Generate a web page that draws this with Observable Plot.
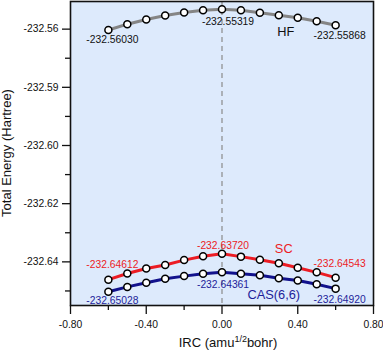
<!DOCTYPE html>
<html>
<head>
<meta charset="utf-8">
<script src="https://cdn.jsdelivr.net/npm/d3@7"></script>
<script src="https://cdn.jsdelivr.net/npm/@observablehq/plot@0.6"></script>
<style>
  html, body { margin: 0; padding: 0; background: #fff; }
  #chart svg { display: block; }
</style>
</head>
<body>
<div id="chart"></div>
<script>
// IRC coordinate (amu^1/2 bohr)
const irc = [-0.6, -0.5, -0.4, -0.3, -0.2, -0.1, 0.0, 0.1, 0.2, 0.3, 0.4, 0.5, 0.6];
// Total energies (Hartree)
const hf  = [-232.56030, -232.5583, -232.5567, -232.5553, -232.5543, -232.5535, -232.55319,
             -232.5535, -232.5544, -232.5552, -232.5561, -232.5573, -232.55868];
const sc  = [-232.64612, -232.6440, -232.6423, -232.6411, -232.6394, -232.6381, -232.63720,
             -232.6382, -232.6393, -232.6405, -232.6420, -232.6436, -232.64543];
const cas = [-232.65028, -232.6486, -232.6472, -232.6458, -232.6449, -232.6441, -232.64361,
             -232.6441, -232.6446, -232.6456, -232.6464, -232.6477, -232.64920];

const seriesNames = ["HF", "SC", "CAS(6,6)"];
const seriesColors = ["#858585", "#ec1c24", "#12128c"];
const labelColors = ["#111111", "#ec1c24", "#1e1e9a"];

const yTickValues = [-232.56, -232.58, -232.60, -232.62, -232.64];
const yTickLabels = ["-232.56", "-232.59", "-232.60", "-232.62", "-232.64"];
const yMinorTicks = [-232.57, -232.59, -232.61, -232.63, -232.65];
const xTickValues = [-0.8, -0.4, 0.0, 0.4, 0.8];
const xTickLabels = ["-0.80", "-0.40", "0.00", "0.40", "0.80"];
const xMinorTicks = [-0.6, -0.2, 0.2, 0.6];

const series = [hf, sc, cas];
const rows = [];
series.forEach((vals, s) => vals.forEach((v, i) => rows.push({x: irc[i], y: v, s: seriesNames[s]})));

const last = irc.length - 1, mid = 6;
// value annotations anchored on the data points: [series index, point index, dx, dy]
const valueLabelSpec = [
  [0, 0, 4, 10], [0, mid, 6, 12], [0, last, 4, 10],
  [1, 0, 4, -15], [1, mid, 1, -8], [1, last, 4, -14],
  [2, 0, 4, 9], [2, mid, 1, 12], [2, last, 4, 11]
];
// series name labels: [series index, point index, dx, dy]
const nameLabelSpec = [[0, 10, -12, 14], [1, 10, -14, -19], [2, 10, -24, 14]];

const font = "'Liberation Sans', Arial, Helvetica, sans-serif";

const labelMarks = [];
valueLabelSpec.forEach(([s, i, dx, dy]) => {
  labelMarks.push(Plot.text([{x: irc[i], y: series[s][i], t: series[s][i].toFixed(5)}],
    {x: "x", y: "y", text: "t", dx, dy, fill: labelColors[s], fontSize: 10.3, lineAnchor: "middle"}));
});
nameLabelSpec.forEach(([s, i, dx, dy]) => {
  labelMarks.push(Plot.text([{x: irc[i], y: series[s][i], t: seriesNames[s]}],
    {x: "x", y: "y", text: "t", dx, dy, fill: labelColors[s], fontSize: 12.8, lineAnchor: "middle"}));
});

const plot = Plot.plot({
  width: 383,
  height: 351,
  marginLeft: 70,
  marginRight: 10,
  marginTop: 1,
  marginBottom: 46,
  style: {fontFamily: font, fontSize: "10.3px", color: "#111", background: "#fff"},
  x: {domain: [-0.8, 0.8]},
  y: {domain: [-232.655, -232.5505]},
  color: {domain: seriesNames, range: seriesColors},
  marks: [
    Plot.frame({fill: "#ddeafc", stroke: "none"}),
    Plot.ruleX([0], {stroke: "#8a8a8a", strokeWidth: 1.2, strokeDasharray: "5,4"}),
    Plot.line(rows, {x: "x", y: "y", z: "s", stroke: "s", strokeWidth: 3}),
    Plot.dot(rows, {x: "x", y: "y", r: 3.5, fill: "white", stroke: "black", strokeWidth: 1.5}),
    ...labelMarks,
    Plot.axisY({ticks: yTickValues, tickSize: 8, tickPadding: 4, strokeWidth: 1.3,
      tickFormat: d => yTickLabels[yTickValues.indexOf(d)], label: null}),
    Plot.axisY({ticks: yMinorTicks, tickSize: 5, strokeWidth: 1.3, tickFormat: () => "", label: null}),
    Plot.axisX({ticks: xTickValues, tickSize: 9, tickPadding: 6, strokeWidth: 1.3,
      tickFormat: d => xTickLabels[xTickValues.indexOf(d)], label: null}),
    Plot.axisX({ticks: xMinorTicks, tickSize: 5, strokeWidth: 1.3, tickFormat: () => "", label: null}),
    Plot.frame({stroke: "#111", strokeWidth: 1.6})
  ]
});

document.getElementById("chart").appendChild(plot);

// axis titles
const svg = d3.select(plot);
const xl = svg.append("text")
  .attr("x", 228).attr("y", 347)
  .attr("text-anchor", "middle")
  .attr("font-family", font).attr("font-size", 13).attr("fill", "#111");
xl.append("tspan").text("IRC (amu");
xl.append("tspan").text("1/2").attr("font-size", 9).attr("dy", -5);
xl.append("tspan").text("bohr)").attr("dy", 5);

svg.append("text")
  .attr("transform", "translate(11,153) rotate(-90)")
  .attr("text-anchor", "middle")
  .attr("font-family", font).attr("font-size", 13).attr("fill", "#111")
  .text("Total Energy (Hartree)");
</script>
</body>
</html>
